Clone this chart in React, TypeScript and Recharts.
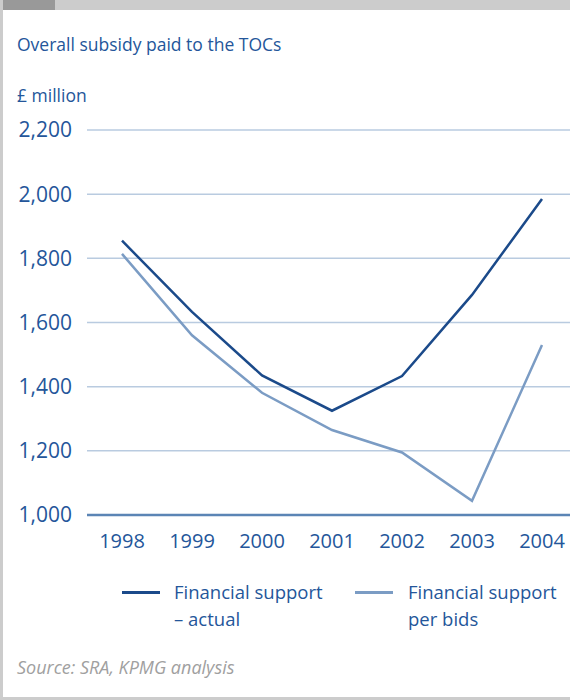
import React from "react";
import { LineChart, Line, XAxis, YAxis, CartesianGrid, ReferenceLine } from "recharts";

const years = ["1998", "1999", "2000", "2001", "2002", "2003", "2004"];
const actual = [1855, 1633, 1435, 1325, 1433, 1686, 1985];
const perBids = [1814, 1560, 1381, 1265, 1195, 1044, 1530];
const yTicks = [1000, 1200, 1400, 1600, 1800, 2000, 2200];

const data = years.map((y, i) => ({ year: y, actual: actual[i], bids: perBids[i] }));

const FONT = "'Open Sans', sans-serif";
const TEXT = "#24569a";
const DARK = "#1b4a8a";
const LIGHT = "#7b9cc4";

export default function App() {
  return (
    <div style={{ position: "absolute", left: 0, top: 0, width: 570, height: 700, background: "#fff", overflow: "hidden", fontFamily: FONT }}>
      <div style={{ position: "absolute", left: 0, top: 0, width: 570, height: 10, background: "#cccccc" }} />
      <div style={{ position: "absolute", left: 3, top: 0, width: 52, height: 10, background: "#999999" }} />
      <div style={{ position: "absolute", left: 0, top: 0, width: 3, height: 700, background: "#cccccc" }} />
      <div style={{ position: "absolute", left: 0, top: 697, width: 570, height: 3, background: "#cccccc" }} />
      <div style={{ position: "absolute", left: 17, top: 31, fontSize: 17.5, color: TEXT, lineHeight: "26px", whiteSpace: "nowrap" }}>
        Overall subsidy paid to the TOCs
      </div>
      <div style={{ position: "absolute", left: 17, top: 82, fontSize: 17.5, color: TEXT, lineHeight: "26px", whiteSpace: "nowrap" }}>
        £ million
      </div>
      <div style={{ position: "absolute", left: 0, top: 0 }}>
        <LineChart width={570} height={560} data={data} margin={{ top: 130, right: 0, bottom: 0, left: 0 }}>
          <CartesianGrid vertical={false} stroke="#b9cbe0" strokeWidth={1.5} />
          <XAxis
            dataKey="year"
            padding={{ left: 35, right: 28 }}
            axisLine={false}
            tickLine={false}
            tickSize={0}
            tickMargin={19}
            height={45}
            tick={{ fill: TEXT, fontSize: 20, fontFamily: FONT }}
            interval={0}
          />
          <YAxis
            domain={[1000, 2200]}
            ticks={yTicks}
            width={87}
            axisLine={false}
            tickLine={false}
            tickSize={0}
            tickMargin={15}
            tickFormatter={(v: number) => v.toLocaleString("en-US")}
            tick={{ fill: TEXT, fontSize: 21, fontFamily: FONT }}
            interval={0}
          />
          <ReferenceLine y={1000} stroke="#5b85b5" strokeWidth={2.5} />
          <Line dataKey="bids" stroke={LIGHT} strokeWidth={2.5} dot={false} isAnimationActive={false} />
          <Line dataKey="actual" stroke={DARK} strokeWidth={2.5} dot={false} isAnimationActive={false} />
        </LineChart>
      </div>
      <div style={{ position: "absolute", left: 122, top: 591, width: 38, height: 2.5, background: DARK }} />
      <div style={{ position: "absolute", left: 174, top: 578, fontSize: 18.5, color: TEXT, lineHeight: "27px", whiteSpace: "nowrap" }}>
        Financial support<br />– actual
      </div>
      <div style={{ position: "absolute", left: 355, top: 591, width: 38, height: 2.5, background: LIGHT }} />
      <div style={{ position: "absolute", left: 408, top: 578, fontSize: 18.5, color: TEXT, lineHeight: "27px", whiteSpace: "nowrap" }}>
        Financial support<br />per bids
      </div>
      <div style={{ position: "absolute", left: 17, top: 655, fontSize: 18, color: "#a0a0a0", fontStyle: "italic", whiteSpace: "nowrap" }}>
        Source: SRA, KPMG analysis
      </div>
    </div>
  );
}
